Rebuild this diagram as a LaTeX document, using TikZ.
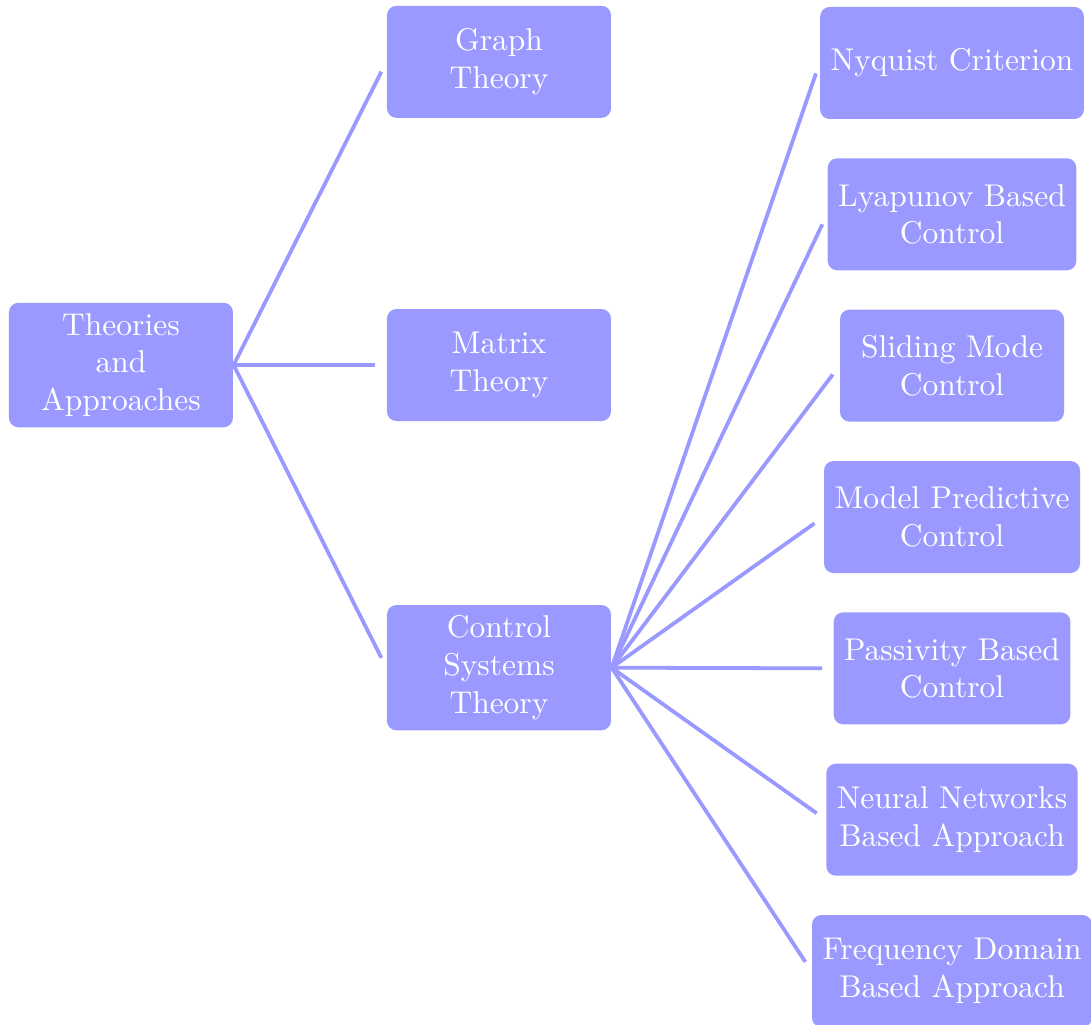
\documentclass[tikz,border=0pt]{standalone}
\usetikzlibrary{positioning}

\begin{document}
\begin{tikzpicture}[
  box/.style={
    fill=blue!40, text=white, rounded corners=3pt, align=center,
    minimum width=2.5cm, minimum height=1.25cm
  },
  link/.style={very thick, blue!40, shorten >=3.5pt}
]
\useasboundingbox (-1.350,-7.355) rectangle (10.826,4.074);

% ---------- ROOT ----------
\node[box] (root) at (0,0) {Theories\\and\\Approaches};

% ---------- FIRST LEVEL ----------
\node[box] (matrix) at (4.219,0) {Matrix\\Theory};
\node[box, above=2.12cm of matrix] (graph) {Graph\\Theory};
\node[box, below=2.04cm of matrix] (ctrl)  {Control\\Systems\\Theory};

% ---------- CONTROL METHODS ----------
\node[box] (nyquist) at (9.275,3.371) {Nyquist Criterion};
\node[box, below=4.25mm of nyquist]  (lyapunov)  {Lyapunov Based\\Control};
\node[box, below=4.25mm of lyapunov] (sliding)   {Sliding Mode\\Control};
\node[box, below=4.25mm of sliding]  (mpc)       {Model Predictive\\Control};
\node[box, below=4.25mm of mpc]      (passivity) {Passivity Based\\Control};
\node[box, below=4.25mm of passivity] (neural)   {Neural Networks\\Based Approach};
\node[box, below=4.25mm of neural]   (freq)      {Frequency Domain\\Based Approach};

% ---------- Links ----------
\draw[link] (root.east) -- (graph.west);
\draw[link] (root.east) -- (matrix.west);
\draw[link] (root.east) -- (ctrl.west);

\draw[link] (ctrl.east) -- (nyquist.west);
\draw[link] (ctrl.east) -- (lyapunov.west);
\draw[link] (ctrl.east) -- (sliding.west);
\draw[link] (ctrl.east) -- (mpc.west);
\draw[link] (ctrl.east) -- (passivity.west);
\draw[link] (ctrl.east) -- (neural.west);
\draw[link] (ctrl.east) -- (freq.west);

\end{tikzpicture}
\end{document}
